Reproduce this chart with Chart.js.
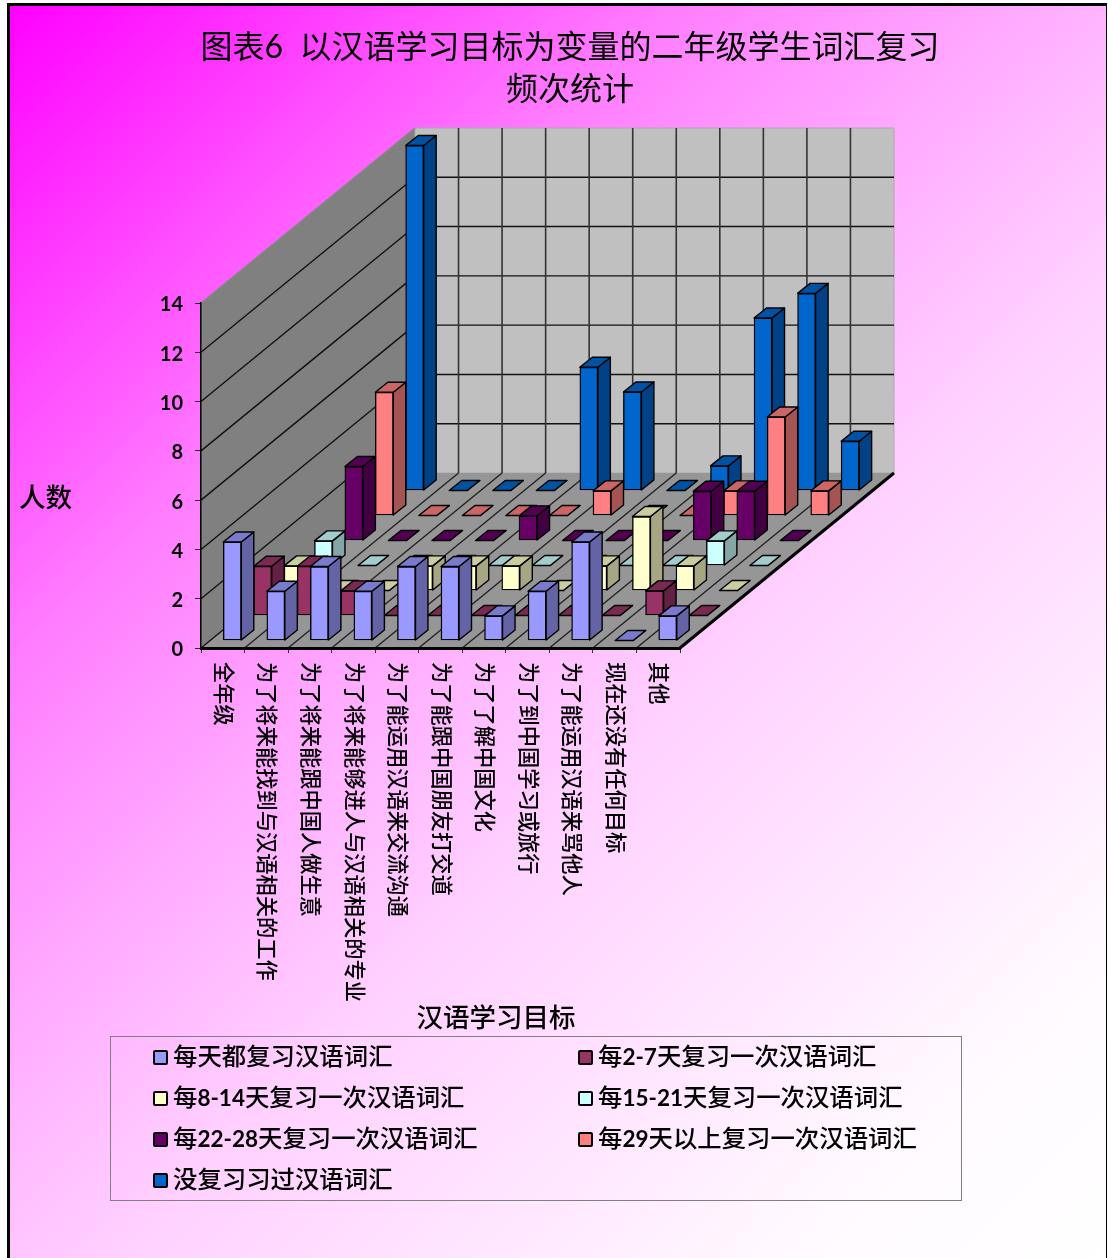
<!DOCTYPE html>
<html lang="zh">
<head>
<meta charset="utf-8">
<title>图表6</title>
<script src="https://cdn.jsdelivr.net/npm/chart.js@4/dist/chart.umd.min.js"></script>
<style>
  html, body { margin: 0; width: 1108px; height: 1258px; overflow: hidden; background: #fff; }
  body, #chartRoot div { font-family: Lato, "Noto Sans CJK SC", sans-serif; color: #000; }
  #chartRoot { position: relative; width: 1108px; height: 1258px; }
  #frame {
    position: absolute; left: 7px; top: 3px; width: 1100px; height: 1270px; box-sizing: border-box;
    border: solid #000; border-width: 3px 1px 0 3px;
    background: linear-gradient(135deg, #ff00ff 0%, #ff3cff 13%, #ff7dff 28%, #ffb0ff 45%, #ffd0ff 57%, #fffaff 86%, #ffffff 100%);
  }
  canvas { position: absolute; left: 0; top: 0; }
  .label { position: absolute; white-space: pre; text-align: center; }
  #chartTitle { left: 170px; width: 800px; top: 25px; font-size: 32px; line-height: 42px; }
  #yTitle { left: 19px; top: 480px; font-size: 26.5px; line-height: 34px; font-weight: 500; }
  #xTitle { left: 396px; width: 200px; top: 999px; font-size: 26.5px; line-height: 36px; font-weight: 500; }
  #legend {
    position: absolute; left: 110px; top: 1036px; width: 852px; height: 165px; box-sizing: border-box;
    border: 1px solid #808080; display: grid; grid-template-columns: 425px 425px; grid-auto-rows: 41px;
  }
  .legend-item { display: flex; align-items: center; padding-left: 42px; font-size: 24.4px; font-weight: 500; white-space: nowrap; }
  .legend-item span { position: relative; top: -3px; }
  .legend-item b { font-size: 22.5px; }
  .legend-item i { width: 11px; height: 11px; border: 2.5px solid #000; border-radius: 2px; margin-right: 5px; flex: none; }
</style>
</head>
<body>
<div id="chartRoot">
  <div id="frame"></div>
  <canvas id="chart" width="1108" height="1258"></canvas>
  <div class="label" id="chartTitle">图表6  以汉语学习目标为变量的二年级学生词汇复习
频次统计</div>
  <div class="label" id="yTitle">人数</div>
  <div class="label" id="xTitle">汉语学习目标</div>
  <div id="legend"></div>
</div>
<script>
const categories = [
  '全年级',
  '为了将来能找到与汉语相关的工作',
  '为了将来能跟中国人做生意',
  '为了将来能够进人与汉语相关的专业',
  '为了能运用汉语来交流沟通',
  '为了能跟中国朋友打交道',
  '为了了解中国文化',
  '为了到中国学习或旅行',
  '为了能运用汉语来骂他人',
  '现在还没有任何目标',
  '其他',
];

const seriesNames = [
  '每天都复习汉语词汇',
  '每2-7天复习一次汉语词汇',
  '每8-14天复习一次汉语词汇',
  '每15-21天复习一次汉语词汇',
  '每22-28天复习一次汉语词汇',
  '每29天以上复习一次汉语词汇',
  '没复习习过汉语词汇',
];

const daily = [4, 2, 3, 2, 3, 3, 1, 2, 4, 0, 1];
const days2to7 = [2, 2, 1, 0, 0, 0, 0, 0, 0, 1, 0];
const days8to14 = [1, 0, 0, 1, 1, 1, 0, 1, 3, 1, 0];
const days15to21 = [1, 0, 0, 0, 0, 0, 0, 0, 0, 1, 0];
const days22to28 = [3, 0, 0, 0, 1, 0, 0, 0, 2, 2, 0];
const days29plus = [5, 0, 0, 0, 0, 1, 0, 0, 1, 4, 1];
const never = [14, 0, 0, 0, 5, 4, 0, 1, 7, 8, 2];
const seriesValues = [daily, days2to7, days8to14, days15to21, days22to28, days29plus, never];

const seriesColors = ['#9999FF', '#993366', '#FFFFCC', '#CCFFFF', '#660066', '#FF8080', '#0066CC'];

// --- 3D projection (pixels) ---
const ROW_DX = 30.57;      // shift per series row into the depth
const ROW_DY = 25;
const BAR_DX = 30.4;
const ROW_PAD_X = 9.5;     // bar inset inside its floor cell
const ROW_PAD_Y = 7.5;
const BOX_DX = 12.5;       // depth of one bar
const BOX_DY = 10;
const WALL_DX = ROW_DX * seriesNames.length;
const WALL_DY = ROW_DY * seriesNames.length;

function shade(hex, k) {
  const n = parseInt(hex.slice(1), 16);
  const c = [n >> 16, (n >> 8) & 255, n & 255].map((v) => Math.round(v * k));
  return `rgb(${c[0]},${c[1]},${c[2]})`;
}

function poly(ctx, pts, fill, stroke, lineWidth) {
  ctx.beginPath();
  pts.forEach((p, i) => (i ? ctx.lineTo(p[0], p[1]) : ctx.moveTo(p[0], p[1])));
  ctx.closePath();
  if (fill) { ctx.fillStyle = fill; ctx.fill(); }
  if (stroke) { ctx.strokeStyle = stroke; ctx.lineWidth = lineWidth; ctx.stroke(); }
}

function line(ctx, x1, y1, x2, y2, color, width) {
  ctx.beginPath();
  ctx.moveTo(x1, y1);
  ctx.lineTo(x2, y2);
  ctx.strokeStyle = color;
  ctx.lineWidth = width;
  ctx.stroke();
}

// --- Walls and floor, hung on the chart's scales ---
const wallsPlugin = {
  id: 'walls',
  beforeDraw(chart) {
    const { ctx, scales } = chart;
    const { left, right, top, bottom } = chart.chartArea;
    ctx.save();
    poly(ctx, [[left, bottom], [left, top], [left + WALL_DX, top - WALL_DY], [left + WALL_DX, bottom - WALL_DY]], '#808080', '#777', 1);
    poly(ctx, [[left + WALL_DX, bottom - WALL_DY], [left + WALL_DX, top - WALL_DY], [right + WALL_DX, top - WALL_DY], [right + WALL_DX, bottom - WALL_DY]], '#C0C0C0', '#aaa', 1);
    poly(ctx, [[left, bottom], [right, bottom], [right + WALL_DX, bottom - WALL_DY], [left + WALL_DX, bottom - WALL_DY]], '#969696');

    scales.y.ticks.forEach((t) => {
      const y = scales.y.getPixelForValue(t.value);
      const color = t.value === scales.y.max ? '#888' : '#111';
      line(ctx, left, y, left + WALL_DX, y - WALL_DY, color, 1.4);
      if (t.value > 0 && t.value < scales.y.max) {
        line(ctx, left + WALL_DX, y - WALL_DY, right + WALL_DX, y - WALL_DY, color, 1.4);
      }
    });

    const step = (right - left) / categories.length;
    for (let i = 1; i < categories.length; i++) {
      const x = left + step * i;
      line(ctx, x, bottom, x + WALL_DX, bottom - WALL_DY, '#222', 1.4);
      line(ctx, x + WALL_DX, bottom - WALL_DY, x + WALL_DX, top - WALL_DY, '#333', 1.6);
    }
    line(ctx, right, bottom, right + WALL_DX, bottom - WALL_DY, '#000', 3);
    ctx.restore();

    // labels read downwards: flip the library's tick label alignment
    scales.x.getLabelItems().forEach((item) => { item.options.textAlign = 'left'; });
  },
};

// --- Each series sits in its own row; the library draws the front faces ---
const boxPlugin = {
  id: 'box3d',
  beforeDatasetDraw(chart, args) {
    const { ctx } = chart;
    const i = args.index;
    const color = seriesColors[i];
    ctx.save();
    ctx.translate(BAR_DX * i + ROW_PAD_X, -ROW_DY * i - ROW_PAD_Y);
    ctx.lineJoin = 'round';
    args.meta.data.forEach((bar) => {
      const l = bar.x - bar.width / 2;
      const r = bar.x + bar.width / 2;
      poly(ctx, [[r, bar.y], [r + BOX_DX, bar.y - BOX_DY], [r + BOX_DX, bar.base - BOX_DY], [r, bar.base]], shade(color, 0.65), '#000', 1.4);
      poly(ctx, [[l, bar.y], [l + BOX_DX, bar.y - BOX_DY], [r + BOX_DX, bar.y - BOX_DY], [r, bar.y]], shade(color, 0.8), '#000', 1.4);
    });
  },
  afterDatasetDraw(chart) {
    chart.ctx.restore();
  },
};

// --- Legend ---
const legendEl = document.getElementById('legend');
seriesNames.forEach((name, i) => {
  const item = document.createElement('div');
  item.className = 'legend-item';
  item.innerHTML = `<i style="background:${seriesColors[i]}"></i><span>${name.replace(/[\d-]+/, '<b>$&</b>')}</span>`;
  legendEl.appendChild(item);
});

// --- Chart ---
new Chart(document.getElementById('chart'), {
  type: 'bar',
  data: {
    labels: categories,
    datasets: seriesNames.map((name, i) => ({
      label: name,
      data: seriesValues[i],
      backgroundColor: seriesColors[i],
      borderColor: '#000',
      borderWidth: 1.4,
      borderSkipped: false,
      barThickness: 18,
      grouped: false,
      clip: false,
    })),
  },
  options: {
    responsive: false,
    animation: false,
    layout: { padding: { top: 303, right: 428, left: 0, bottom: 0 } },
    plugins: { legend: { display: false }, title: { display: false }, tooltip: { enabled: false } },
    scales: {
      x: {
        afterFit: (s) => { s.height = 610; },
        border: { color: '#000', width: 3 },
        grid: { drawOnChartArea: false, tickLength: 5, color: '#333', tickWidth: 1 },
        ticks: {
          autoSkip: false,
          minRotation: -90,
          maxRotation: -90,
          padding: 9,
          color: '#000',
          font: { family: 'Lato, "Noto Sans CJK SC"', size: 21.25, weight: '500' },
        },
      },
      y: {
        min: 0,
        max: 14,
        afterFit: (s) => { s.width = 201; },
        border: { color: '#000', width: 1.5 },
        grid: { drawOnChartArea: false, tickLength: 6, color: '#222' },
        ticks: {
          stepSize: 2,
          padding: 12,
          labelOffset: 2,
          color: '#000',
          font: { family: 'Lato, "Noto Sans CJK SC"', size: 20, weight: 'bold' },
        },
      },
    },
  },
  plugins: [wallsPlugin, boxPlugin],
});
</script>
</body>
</html>
